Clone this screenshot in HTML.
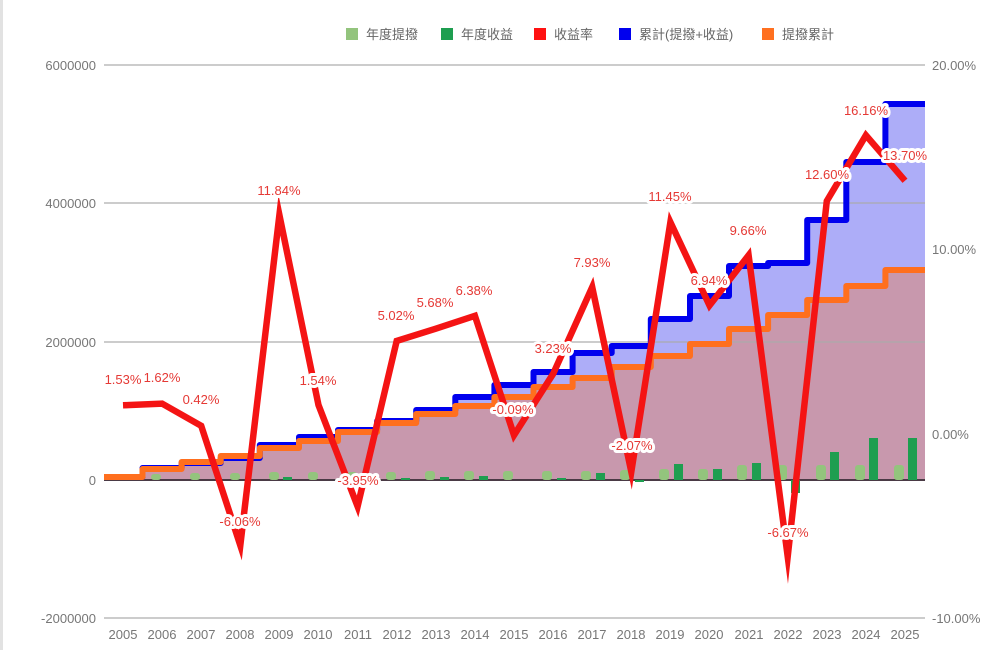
<!DOCTYPE html>
<html><head><meta charset="utf-8"><style>
html,body{margin:0;padding:0;background:#fff;}
svg{display:block;font-family:"Liberation Sans","Noto Sans CJK TC",sans-serif;}
.ax{font-size:13px;fill:#777;}
.lg{font-size:13px;fill:#666;}
.dl{font-size:13px;fill:#e53935;paint-order:stroke;stroke:#fff;stroke-width:6px;stroke-linejoin:round;}
</style></head><body>
<svg width="1006" height="650" viewBox="0 0 1006 650" xmlns="http://www.w3.org/2000/svg">
<rect x="0" y="0" width="3" height="650" fill="#e2e2e2"/>
<!-- legend -->
<rect x="346" y="28" width="12" height="12" fill="#93c47d"/><text class="lg" x="366" y="39">年度提撥</text>
<rect x="441" y="28" width="12" height="12" fill="#1e9e50"/><text class="lg" x="461" y="39">年度收益</text>
<rect x="534" y="28" width="12" height="12" fill="#ff1111"/><text class="lg" x="554" y="39">收益率</text>
<rect x="619" y="28" width="12" height="12" fill="#0000ee"/><text class="lg" x="639" y="39">累計(提撥+收益)</text>
<rect x="762" y="28" width="12" height="12" fill="#ff7020"/><text class="lg" x="782" y="39">提撥累計</text>
<!-- fills -->
<path d="M104,477 H142.5 V468 H181.6 V463 H220.7 V458 H259.8 V445 H299 V437 H338 V430 H377.1 V421 H416.2 V410 H455.3 V397 H494.4 V385 H533.5 V372 H572.6 V353 H611.7 V346 H650.8 V319 H690 V296 H729 V266 H768.1 V263 H807.2 V220 H846.3 V162 H885.4 V104 H925 V480 H104 Z" fill="#adadf8"/>
<path d="M104,477 H142.5 V469 H181.6 V462 H220.7 V456 H259.8 V448 H299 V441 H338 V432 H377.1 V423 H416.2 V414 H455.3 V406 H494.4 V397 H533.5 V387 H572.6 V378 H611.7 V367 H650.8 V356 H690 V344 H729 V329 H768.1 V315 H807.2 V300 H846.3 V286 H885.4 V270 H925 V480 H104 Z" fill="#c898ad"/>
<!-- grid -->
<g stroke="#aaa" stroke-opacity="0.6" stroke-width="2">
<line x1="104" y1="65" x2="925" y2="65"/><line x1="104" y1="203" x2="925" y2="203"/><line x1="104" y1="342" x2="925" y2="342"/><line x1="104" y1="618" x2="925" y2="618"/>
</g>
<line x1="104" y1="480" x2="925" y2="480" stroke="#4a3a45" stroke-width="2"/>
<!-- axis labels -->
<g class="ax" text-anchor="end">
<text x="96" y="70">6000000</text><text x="96" y="208">4000000</text><text x="96" y="347">2000000</text><text x="96" y="485">0</text><text x="96" y="623">-2000000</text>
</g>
<g class="ax">
<text x="932" y="70">20.00%</text><text x="932" y="254">10.00%</text><text x="932" y="439">0.00%</text><text x="932" y="623">-10.00%</text>
</g>
<g class="ax" text-anchor="middle">
<text x="123" y="639">2005</text><text x="162" y="639">2006</text><text x="201" y="639">2007</text><text x="240" y="639">2008</text><text x="279" y="639">2009</text><text x="318" y="639">2010</text><text x="358" y="639">2011</text><text x="397" y="639">2012</text><text x="436" y="639">2013</text><text x="475" y="639">2014</text><text x="514" y="639">2015</text><text x="553" y="639">2016</text><text x="592" y="639">2017</text><text x="631" y="639">2018</text><text x="670" y="639">2019</text><text x="709" y="639">2020</text><text x="749" y="639">2021</text><text x="788" y="639">2022</text><text x="827" y="639">2023</text><text x="866" y="639">2024</text><text x="905" y="639">2025</text>
</g>
<!-- bars -->
<g fill="#93c47d">
<rect x="151" y="474" width="10" height="6" rx="3"/><rect x="190" y="473" width="10" height="7" rx="3"/><rect x="230" y="473" width="10" height="7" rx="3"/><rect x="269" y="472" width="10" height="8" rx="3"/><rect x="308" y="472" width="10" height="8" rx="3"/><rect x="347" y="472" width="10" height="8" rx="3"/><rect x="386" y="472" width="10" height="8" rx="3"/><rect x="425" y="471" width="10" height="9" rx="3"/><rect x="464" y="471" width="10" height="9" rx="3"/><rect x="503" y="471" width="10" height="9" rx="3"/><rect x="542" y="471" width="10" height="9" rx="3"/><rect x="581" y="471" width="10" height="9" rx="3"/><rect x="620" y="470" width="10" height="10" rx="3"/><rect x="659" y="469" width="10" height="11" rx="3"/><rect x="698" y="469" width="10" height="11" rx="3"/><rect x="737" y="465" width="10" height="15" rx="3"/><rect x="777" y="465" width="10" height="15" rx="3"/><rect x="816" y="465" width="10" height="15" rx="3"/><rect x="855" y="465" width="10" height="15" rx="3"/><rect x="894" y="465" width="10" height="15" rx="3"/>
</g>
<g fill="#1e9e50">
<rect x="283" y="477" width="9" height="3"/><rect x="401" y="478" width="9" height="2"/><rect x="440" y="477" width="9" height="3"/><rect x="479" y="476" width="9" height="4"/><rect x="557" y="478" width="9" height="2"/><rect x="596" y="473" width="9" height="7"/><rect x="635" y="480" width="9" height="2"/><rect x="674" y="464" width="9" height="16"/><rect x="713" y="469" width="9" height="11"/><rect x="752" y="463" width="9" height="17"/><rect x="791" y="480" width="9" height="13"/><rect x="830" y="452" width="9" height="28"/><rect x="869" y="438" width="9" height="42"/><rect x="908" y="438" width="9" height="42"/>
</g>
<!-- lines -->
<path d="M104,477 H142.5 V468 H181.6 V463 H220.7 V458 H259.8 V445 H299 V437 H338 V430 H377.1 V421 H416.2 V410 H455.3 V397 H494.4 V385 H533.5 V372 H572.6 V353 H611.7 V346 H650.8 V319 H690 V296 H729 V266 H768.1 V263 H807.2 V220 H846.3 V162 H885.4 V104 H925" fill="none" stroke="#0000ee" stroke-width="6" stroke-linejoin="round"/>
<path d="M104,477 H142.5 V469 H181.6 V462 H220.7 V456 H259.8 V448 H299 V441 H338 V432 H377.1 V423 H416.2 V414 H455.3 V406 H494.4 V397 H533.5 V387 H572.6 V378 H611.7 V367 H650.8 V356 H690 V344 H729 V329 H768.1 V315 H807.2 V300 H846.3 V286 H885.4 V270 H925" fill="none" stroke="#ff6f1e" stroke-width="6" stroke-linejoin="round"/>
<polyline points="123,405.3 162.1,403.6 201.2,425.8 240.3,545.3 279.4,215.1 318.5,405.1 357.6,506.4 396.7,340.9 435.8,328.7 474.9,315.8 514,435.2 553.1,373.9 592.2,287.2 631.3,471.7 670.4,222.2 709.5,305.5 748.6,255.3 787.7,556.6 826.8,201 865.9,135.3 905,180.7" fill="none" stroke="#f41414" stroke-width="6.5" stroke-linejoin="miter" stroke-miterlimit="10"/>
<!-- data labels -->
<g class="dl" text-anchor="middle">
<text x="123" y="384">1.53%</text><text x="162" y="382">1.62%</text><text x="201" y="404">0.42%</text><text x="240" y="526">-6.06%</text><text x="279" y="195">11.84%</text><text x="318" y="385">1.54%</text><text x="358" y="485">-3.95%</text><text x="396" y="320">5.02%</text><text x="435" y="307">5.68%</text><text x="474" y="295">6.38%</text><text x="513" y="414">-0.09%</text><text x="553" y="353">3.23%</text><text x="592" y="267">7.93%</text><text x="632" y="450">-2.07%</text><text x="670" y="201">11.45%</text><text x="709" y="285">6.94%</text><text x="748" y="235">9.66%</text><text x="788" y="537">-6.67%</text><text x="827" y="179">12.60%</text><text x="866" y="115">16.16%</text><text x="905" y="160">13.70%</text>
</g>
</svg>
</body></html>
